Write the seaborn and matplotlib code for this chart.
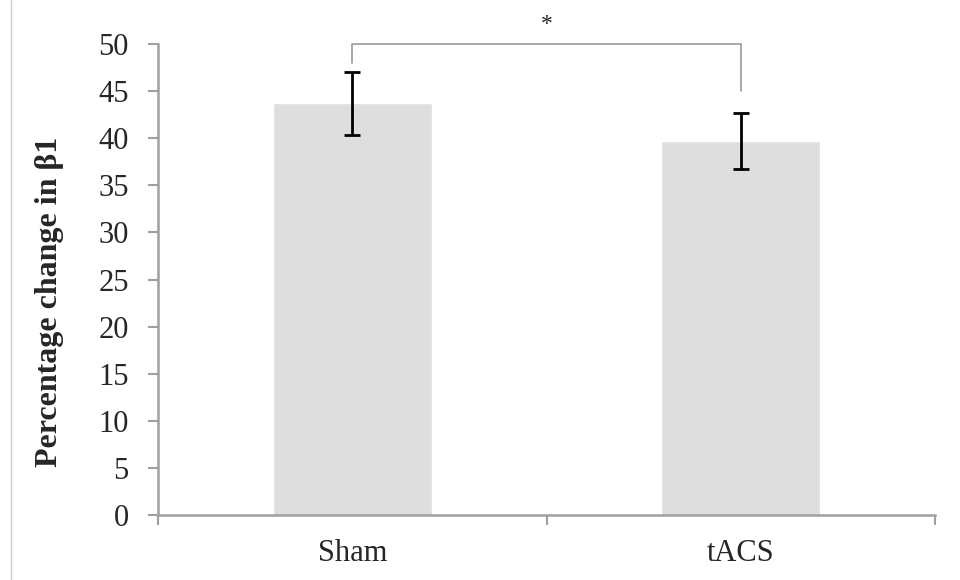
import matplotlib
matplotlib.use('Agg')
import matplotlib.pyplot as plt
import seaborn as sns
import pandas

groups = ['Sham', 'tACS']
means = [43.7, 39.7]
errors = [3.3, 3.0]
yticks = [0, 5, 10, 15, 20, 25, 30, 35, 40, 45, 50]

sns.set_style('white')
plt.rcParams['font.family'] = ['Liberation Serif', 'DejaVu Serif']

df = pandas.DataFrame({'group': groups, 'change': means})

fig = plt.figure(figsize=(9.6, 5.8), dpi=100)
ax = fig.add_axes([0.1646, 0.112, 0.8094, 0.812])

sns.barplot(data=df, x='group', y='change', color='#dedede', width=0.41,
            saturation=1, ax=ax, errorbar=None)
ax.errorbar(range(len(groups)), means, yerr=errors, fmt='none',
            ecolor='black', elinewidth=2, capsize=6, capthick=2)

ax.set_xlim(-0.5, 1.5)
ax.set_ylim(0, 50)
ax.set_yticks(yticks)
ax.tick_params(axis='y', labelsize=22, length=7, width=1.5, color='#a0a0a0',
               direction='out', left=True, pad=14)
ax.set_xticks(range(len(groups)))
ax.set_xticklabels(groups)
ax.tick_params(axis='x', which='major', length=0, labelsize=22, pad=17)
ax.set_xticks([-0.5, 0.5, 1.5], minor=True)
ax.tick_params(axis='x', which='minor', length=7, width=1.5, color='#a0a0a0',
               direction='out', bottom=True)

for s in ['top', 'right']:
    ax.spines[s].set_visible(False)
for s in ['left', 'bottom']:
    ax.spines[s].set_color('#a0a0a0')
    ax.spines[s].set_linewidth(1.8)

ax.set_xlabel('')
ax.set_ylabel('Percentage change in β1', fontsize=23, fontweight='bold', labelpad=25)
ax.yaxis.label.set_y(0.452)

# significance bracket
ax.plot([0, 0, 1, 1], [48.0, 50.0, 50.0, 45.0], color='#999999', lw=1.2, clip_on=False)
ax.text(0.5, 51.0, '*', ha='center', va='bottom', fontsize=17)

# thin frame line at the left edge of the image
fig.add_artist(plt.Line2D([11 / 960, 11 / 960], [0, 1], color='#cccccc', lw=1,
                          transform=fig.transFigure))

fig.savefig('out.png', dpi=100)
